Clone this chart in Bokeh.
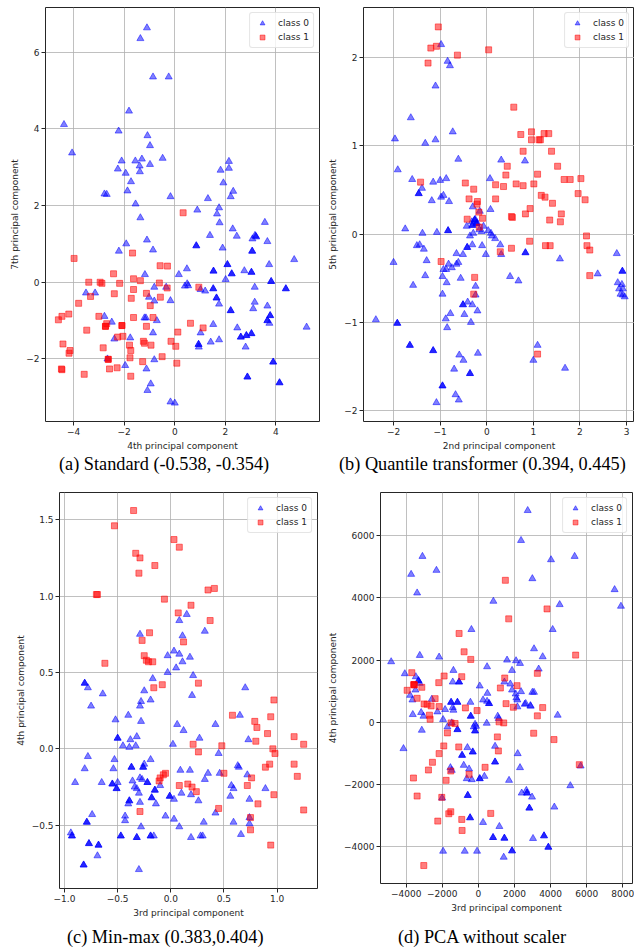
from bokeh.plotting import figure
from bokeh.layouts import column, row
from bokeh.models import FixedTicker, Legend, LegendItem, Range1d, Div
from bokeh.embed import file_html
from bokeh.resources import INLINE

# ---------------- data ----------------
# (a) Standard scaler: 4th vs 7th principal component
a_class0 = [(-4.38,4.11),(-4.06,3.37),(-1.10,6.63),(-1.36,6.35),(-0.86,5.35),(-0.24,5.35),(-1.81,4.46),(-2.22,3.94),
            (-1.08,3.82),(-0.98,3.56),(-0.48,3.23),(-2.10,3.16),(-1.56,3.16),(-1.30,3.21),(-1.39,3.03),(-0.98,3.07),
            (-2.25,2.95),(-1.94,2.84),(-1.38,2.88),(-1.73,2.62),(-1.87,2.38),(-2.78,2.30),(-2.69,2.29),(-1.55,2.04),
            (-0.17,2.23),(-1.36,1.68),(-1.10,1.10),(0.89,1.88),(1.31,2.18),(1.75,1.94),(1.67,1.78),(1.77,1.55),
            (1.81,2.92),(2.14,3.15),(2.14,2.97),(1.92,2.59),(2.31,2.37),(2.21,2.23),(2.29,1.39),(1.39,1.22),
            (2.45,1.20),(3.56,1.56),(3.07,1.13),(3.66,1.06),(3.20,1.20),(3.17,1.22),(3.22,1.18),(-1.92,1.00),
            (-2.21,0.81),(-0.86,0.84),(1.89,0.89),(4.72,0.59),(3.73,0.46),(0.48,0.35),(0.16,0.20),(-1.18,0.20),
            (2.75,0.30),(2.01,0.07),(-0.34,-0.13),(0.40,-0.10),(1.02,-0.19),(1.20,-0.23),(3.16,-0.13),(-0.81,-0.13),
            (0.49,-0.04),(0.53,-0.09),(-1.02,-0.39),(-0.81,-0.49),(-0.17,-0.48),(1.75,-0.57),(3.16,-0.52),(3.10,-0.69),
            (3.66,-0.62),(-3.51,-0.28),(-3.15,-0.28),(-2.78,-0.89),(-2.49,-1.04),(-1.20,-0.93),(-1.14,-0.93),(-0.71,-1.00),
            (3.74,-1.07),(1.52,-1.10),(2.47,-1.19),(5.21,-1.17),(1.02,-1.32),(-0.86,-1.32),(-1.76,-1.45),(-2.39,-1.48),
            (1.75,-1.50),(1.42,-1.56),(0.95,-1.69),(2.80,-1.69),(-2.66,-2.00),(-0.81,-2.02),(-1.96,-2.17),(-1.12,-2.26),
            (-0.95,-2.65),(-1.08,-2.82),(-0.17,-3.12),(0.00,-3.15)]
a_class0_dense = [(0.85,0.95),(3.06,0.81),(2.08,0.46),(1.53,0.29),(2.25,0.22),(3.03,0.26),(3.81,0.02),(1.52,-0.17),
                  (4.39,-0.17),(1.65,-0.41),(2.21,-0.74),(3.77,-0.87),(3.66,-1.00),(2.61,-1.43),(2.83,-1.39),(3.03,-1.34),
                  (0.94,-1.62),(3.89,-2.08),(2.87,-2.47),(4.14,-2.62)]
a_class1 = [(0.33,1.81),(-3.98,0.62),(-1.67,0.76),(-0.58,0.43),(-0.29,0.42),(-2.42,0.22),(-3.40,0.00),(-2.95,0.00),
            (-2.88,-0.03),(-2.18,-0.03),(-1.63,0.09),(-1.36,0.04),(-0.61,-0.02),(-0.30,-0.15),(-1.63,-0.19),(0.95,-0.13),
            (-2.39,-0.30),(-3.33,-0.37),(-1.12,-0.29),(-1.72,-0.42),(-0.57,-0.39),(-3.80,-0.55),(-0.97,-0.61),(-4.60,-0.98),
            (-4.46,-0.89),(-4.19,-0.83),(-3.00,-0.89),(-1.63,-0.92),(-0.86,-0.92),(0.62,-1.07),(-2.69,-1.08),(-1.12,-1.15),
            (1.12,-1.19),(-3.48,-1.25),(0.12,-1.30),(-2.05,-1.41),(-2.26,-1.43),(-1.24,-1.54),(-1.20,-1.59),(-0.15,-1.54),
            (-4.42,-1.61),(-1.79,-1.64),(-0.94,-1.64),(0.04,-1.67),(-2.83,-1.71),(-1.74,-1.78),(-4.14,-1.78),(-4.18,-1.85),
            (-1.77,-1.97),(-0.50,-1.94),(-1.27,-2.07),(0.08,-2.11),(-4.48,-2.26),(-4.46,-2.28),(-2.28,-2.23),(-2.58,-2.26),
            (-3.58,-2.40),(-1.74,-2.45)]
a_class1_dense = [(-2.74,-1.15),(-2.09,-1.13),(-2.63,-2.01)]

# (b) Quantile transformer: 2nd vs 5th principal component
b_class0 = [(-0.98,2.15),(-0.84,1.96),(-0.79,1.91),(-1.10,1.68),(-1.63,1.32),(-1.97,1.08),(-1.32,1.03),(-1.10,1.07),
            (-0.73,1.16),(-0.61,0.85),(-1.91,0.73),(-1.60,0.62),(-1.15,0.59),(-1.00,0.61),(-0.87,0.63),(-1.39,0.52),
            (-1.18,0.38),(-0.98,0.42),(-0.93,0.44),(-0.81,0.37),(-1.75,0.06),(-1.38,0.01),(-1.07,0.02),(-0.30,0.31),
            (-0.15,0.26),(0.08,0.28),(0.07,0.63),(0.31,0.84),(0.82,0.83),(-0.25,0.17),(-0.32,0.14),(-0.43,0.09),
            (-0.21,0.13),(-0.16,0.05),(-0.07,0.09),(-0.11,0.03),(-0.36,-0.02),(-0.29,0.01),(0.03,0.04),(0.09,0.01),
            (0.11,-0.02),(0.18,-0.05),(-1.50,-0.13),(-1.44,-0.12),(-1.35,-0.17),(-1.29,-0.30),(-2.00,-0.32),(-1.32,-0.47),
            (-1.58,-0.58),(-0.95,-0.48),(-0.93,-0.40),(-0.87,-0.40),(-0.82,-0.34),(-0.75,-0.38),(-0.65,-0.34),(-0.61,-0.32),
            (-0.65,-0.22),(-0.51,-0.23),(-0.31,-0.12),(-0.10,-0.13),(-0.02,-0.23),(0.29,-0.12),(0.31,-0.23),(1.57,-0.28),
            (-0.86,-0.55),(-0.95,-0.68),(-0.56,-0.50),(-0.24,-0.59),(-0.24,-0.69),(-0.31,-0.80),(-0.41,-0.77),(-0.20,-0.87),
            (-0.48,-0.91),(-0.78,-0.90),(-0.88,-0.96),(-0.85,-1.06),(-0.34,-1.00),(-2.38,-0.97),(0.50,-0.48),(0.68,-0.53),
            (2.38,-0.45),(2.79,-0.22),(2.81,-0.55),(2.90,-0.57),(2.84,-0.62),(2.92,-0.62),(2.87,-0.68),(2.92,-0.69),
            (2.96,-0.71),(1.09,-1.26),(1.00,-1.43),(1.68,-1.52),(-0.19,-1.35),(-0.59,-1.37),(-0.50,-1.43),(-0.70,-1.53),
            (-1.08,-1.91),(-0.67,-1.82),(-0.60,-1.88)]
b_class0_dense = [(-1.46,0.46),(-0.83,0.04),(-0.42,-0.15),(0.83,-0.21),(-0.51,-0.80),(2.91,-0.42),(-1.92,-1.01),
                  (-1.65,-1.26),(-1.15,-1.32),(-0.36,-1.58),(-0.95,-1.72),(-0.26,0.16),(-0.22,0.12),(-0.31,0.10)]
b_class1 = [(-1.04,2.35),(-1.20,2.11),(-1.08,2.13),(-1.26,1.94),(-0.63,2.03),(0.04,2.09),(0.58,1.44),(0.73,1.13),
            (0.96,1.16),(0.96,1.07),(1.12,1.07),(1.15,1.07),(1.23,1.14),(1.33,1.14),(0.78,0.94),(1.39,0.94),
            (0.44,0.77),(1.52,0.77),(0.41,0.67),(1.09,0.68),(1.66,0.62),(1.79,0.62),(2.02,0.63),(-1.42,0.59),
            (-0.46,0.58),(0.19,0.56),(0.36,0.54),(0.63,0.57),(0.78,0.55),(1.01,0.57),(-0.28,0.51),(1.17,0.44),
            (1.25,0.42),(1.96,0.46),(2.11,0.39),(-0.38,0.40),(0.19,0.40),(-0.20,0.37),(-0.21,0.34),(1.41,0.35),
            (0.93,0.29),(-0.17,0.25),(0.53,0.20),(0.55,0.19),(0.83,0.23),(1.60,0.23),(-0.42,0.17),(-0.09,0.18),
            (1.35,0.16),(1.58,0.14),(-0.16,0.08),(2.14,-0.02),(0.92,-0.08),(0.29,-0.20),(0.53,-0.16),(1.26,-0.13),
            (1.36,-0.13),(2.15,-0.13),(2.21,-0.18),(2.21,-0.47),(-0.98,-0.31),(-0.26,-0.49),(-0.28,-0.68),(1.09,-1.36)]

# (c) Min-max scaler: 3rd vs 4th principal component
c_class0 = [(0.08,0.84),(0.15,0.88),(-0.29,0.75),(0.11,0.74),(0.32,0.77),(-0.03,0.61),(0.03,0.64),(0.08,0.62),
            (0.11,0.57),(0.18,0.60),(0.05,0.53),(-0.03,0.50),(0.21,0.48),(-0.17,0.46),(-0.78,0.40),(-0.64,0.36),
            (-0.25,0.38),(-0.28,0.31),(-0.19,0.32),(0.20,0.35),(0.70,0.40),(-0.75,0.28),(-0.29,0.28),(-0.52,0.19),
            (-0.40,0.22),(-0.28,0.18),(-0.38,0.06),(-0.32,0.08),(-0.45,0.02),(-0.39,0.01),(-0.33,0.02),(0.06,0.16),
            (0.12,0.12),(0.42,0.16),(0.27,0.07),(0.02,0.03),(0.65,0.22),(0.73,0.06),(-0.78,-0.05),(-0.53,-0.07),
            (-0.81,-0.13),(-0.90,-0.22),(-0.65,-0.22),(-0.54,-0.13),(-0.25,-0.10),(-0.19,-0.07),(-0.50,-0.22),(-0.36,-0.21),
            (-0.30,-0.29),(-0.14,-0.36),(-0.40,-0.36),(-0.29,-0.35),(-0.10,-0.24),(0.03,-0.33),(0.09,-0.14),(0.18,-0.14),
            (0.32,-0.20),(0.35,-0.16),(0.46,-0.16),(0.10,-0.29),(0.19,-0.30),(0.26,-0.34),(0.45,-0.03),(0.63,-0.11),
            (0.64,-0.12),(0.72,-0.17),(0.57,-0.24),(0.59,-0.26),(0.56,-0.31),(0.74,-0.33),(0.89,-0.26),(0.74,-0.45),
            (0.59,-0.48),(0.74,-0.49),(0.66,-0.56),(0.42,-0.42),(0.31,-0.48),(-0.05,-0.44),(0.03,-0.46),(0.08,-0.51),
            (0.19,-0.58),(0.28,-0.57),(0.30,-0.57),(-0.74,-0.43),(-0.28,-0.51),(-0.94,-0.55),(-0.69,-0.70),(-0.16,-0.57),
            (-0.30,-0.79),(-0.34,-0.25),(-0.32,-0.26),(-0.29,-0.19),(-0.27,-0.20),(-0.43,-0.44),(-0.43,-0.47)]
c_class0_dense = [(-0.81,0.43),(-0.50,0.07),(-0.37,-0.12),(-0.26,-0.12),(-0.55,-0.23),(-0.51,-0.26),(-0.22,-0.22),
                  (-0.15,-0.27),(-0.18,-0.32),(-0.39,-0.34),(-0.01,-0.31),(-0.79,-0.48),(-0.93,-0.57),(-0.77,-0.62),
                  (-0.68,-0.63),(-0.82,-0.76),(-0.47,-0.57),(-0.32,-0.58),(-0.19,-0.57)]
c_class1 = [(-0.35,1.56),(-0.53,1.46),(0.03,1.37),(0.08,1.32),(-0.33,1.28),(-0.29,1.25),(-0.15,1.20),(-0.30,1.15),
            (-0.69,1.01),(-0.70,1.01),(0.35,1.04),(0.41,1.05),(-0.06,0.98),(0.19,0.94),(0.07,0.89),(0.37,0.84),
            (-0.20,0.76),(-0.27,0.71),(0.12,0.70),(-0.25,0.61),(-0.23,0.58),(-0.21,0.57),(-0.17,0.57),(-0.62,0.56),
            (0.26,0.43),(-0.08,0.42),(-0.16,0.40),(0.97,0.32),(0.58,0.22),(0.79,0.18),(0.81,0.14),(0.94,0.21),
            (0.91,0.10),(1.16,0.08),(0.80,0.05),(0.21,0.03),(0.48,0.02),(1.25,0.03),(0.26,-0.02),(0.96,0.00),
            (0.98,-0.03),(1.16,-0.10),(0.93,-0.10),(0.89,-0.12),(1.19,-0.18),(-0.05,-0.16),(-0.07,-0.17),(-0.10,-0.19),
            (-0.11,-0.21),(0.50,-0.16),(0.76,-0.19),(0.08,-0.24),(0.16,-0.23),(0.20,-0.25),(0.24,-0.28),(0.72,-0.24),
            (0.97,-0.30),(0.82,-0.36),(-0.29,-0.41),(0.45,-0.39),(1.25,-0.40),(0.75,-0.45),(0.75,-0.53),(0.94,-0.63)]

# (d) PCA without scaler: 3rd vs 4th principal component
d_class0 = [(2731,6813),(2362,5850),(-3100,5337),(-3727,4759),(-2325,4888),(-3395,4160),(2989,4620),(4022,5230),
            (5332,5337),(7546,4267),(7897,3733),(830,3893),(4502,3786),(4114,2984),(-387,2984),(3081,2364),
            (3561,2107),(-3247,2150),(-2177,2096),(-4834,1947),(1587,2000),(2085,1979),(2306,1893),(-4077,1561),
            (-3469,1465),(480,1786),(1863,1668),(3339,1711),(-1384,1668),(-3247,1251),(-1421,1294),(1439,1294),
            (1771,1230),(74,1166),(-3487,1037),(498,930),(1863,1037),(2066,909),(2362,984),(3081,963),(2989,963),
            (-3782,866),(258,717),(480,674),(2103,781),(2158,717),(-3653,717),(-2583,738),(-443,642),(2564,578),
            (2878,535),(-3635,247),(-3173,312),(-3044,194),(-2269,333),(-1845,409),(-1421,473),(-1384,387),
            (-1956,86),(-1476,-22),(-1716,-151),(-3136,-258),(-185,-65),(-129,-129),(-258,-151),(461,-32),
            (1070,194),(1125,118),(2159,495),(2620,602),(2897,516),(4391,226),(-4151,-849),(-609,-817),
            (922,-774),(2177,-1011),(2306,-1462),(-1550,-1462),(-1476,-1548),(-812,-1387),(-517,-1505),(-646,-1817),
            (-369,-1849),(332,-1742),(1697,-1871),(-2011,-2441),(2399,-2280),(2657,-2194),(2971,-2409),(4207,-2731),
            (5092,-2043),(5664,-1409),(258,-3226),(1162,-3355),(3026,-3742),(1402,-4344),(-1956,-4151),(-756,-4151),
            (-74,-4151)]
d_class0_dense = [(-3321,1337),(-1070,1294),(-1513,642),(-1162,642),(590,602),(-424,194),(-1162,-237),(-185,-280),
                  (-904,-1065),(-314,-957),(922,-1280),(74,-1817),(-590,-2355),(2694,-2280),(2823,-2763),(-461,-3075),
                  (812,-3710),(1439,-3731),(3635,-3656),(3875,-4022),(1863,-4140)]
d_class1 = [(1494,4567),(1679,3326),(3801,3647),(-1070,2856),(-793,2267),(-424,2021),(5387,2160),(-3690,1594),
            (-1900,1487),(-922,1465),(1458,1422),(3266,1572),(-3542,1198),(-3136,1123),(-2196,1273),
            (-3948,1027),(1218,1102),(2140,1177),(-3395,770),(-2398,759),(-3007,588),(-2841,578),(-2620,524),
            (-2177,502),(-720,460),(-74,374),(1531,598),(1937,481),(3561,470),(-2712,226),(-2675,97),
            (-1513,-22),(-1291,-43),(3266,204),(1144,11),(1402,-22),(3063,-355),(4188,-559),(1051,-473),
            (-1716,-344),(-1919,-763),(-1089,-796),(1107,-925),(-2177,-1011),(-2546,-1290),(-2768,-1538),(-1531,-1570),
            (369,-1452),(-517,-1677),(-3598,-1796),(-1790,-1871),(5590,-1366),(-3395,-2376),(-2029,-2419),(-1531,-2882),
            (-1642,-2946),(683,-2935),(-2251,-3183),(-922,-3129),(-904,-3484),(-3026,-4613)]
d_class1_dense = [(-3580,1210)]

# ticks and labels
a_xticks = [-4, -2, 0, 2, 4]; a_xlabels = ["\u22124", "\u22122", "0", "2", "4"]
a_yticks = [-2, 0, 2, 4, 6]; a_ylabels = ["\u22122", "0", "2", "4", "6"]
b_xticks = [-2, -1, 0, 1, 2, 3]; b_xlabels = ["\u22122", "\u22121", "0", "1", "2", "3"]
b_yticks = [-2, -1, 0, 1, 2]; b_ylabels = ["\u22122", "\u22121", "0", "1", "2"]
c_xticks = [-1.0, -0.5, 0.0, 0.5, 1.0]; c_xlabels = ["\u22121.0", "\u22120.5", "0.0", "0.5", "1.0"]
c_yticks = [-0.5, 0.0, 0.5, 1.0, 1.5]; c_ylabels = ["\u22120.5", "0.0", "0.5", "1.0", "1.5"]
d_xticks = [-4000, -2000, 0, 2000, 4000, 6000, 8000]
d_xlabels = ["\u22124000", "\u22122000", "0", "2000", "4000", "6000", "8000"]
d_yticks = [-4000, -2000, 0, 2000, 4000, 6000]
d_ylabels = ["\u22124000", "\u22122000", "0", "2000", "4000", "6000"]

captions = ["(a) Standard (-0.538, -0.354)", "(b) Quantile transformer (0.394, 0.445)",
            "(c) Min-max (0.383,0.404)", "(d) PCA without scaler"]
class_labels = ["class 0", "class 1"]

# ---------------- drawing ----------------
INK = "#262626"


def xs(pts):
    return [p[0] for p in pts]


def ys(pts):
    return [p[1] for p in pts]


def panel(w, h, bl, br, bt, bb, xr, yr, xt, xtl, yt, ytl, xlab, ylab, c0, c0d, c1, c1d):
    p = figure(width=w, height=h, x_range=Range1d(*xr), y_range=Range1d(*yr),
               output_backend="svg", toolbar_location=None, tools="",
               min_border_left=bl, min_border_right=br, min_border_top=bt, min_border_bottom=bb)
    p.outline_line_color = INK
    p.outline_line_width = 1
    p.background_fill_color = "white"
    p.border_fill_color = "white"
    p.xaxis.ticker = FixedTicker(ticks=xt)
    p.xaxis.major_label_overrides = {t: l for t, l in zip(xt, xtl)}
    p.yaxis.ticker = FixedTicker(ticks=yt)
    p.yaxis.major_label_overrides = {t: l for t, l in zip(yt, ytl)}
    p.xaxis.axis_label = xlab
    p.yaxis.axis_label = ylab
    for ax in (p.xaxis[0], p.yaxis[0]):
        ax.axis_line_color = None
        ax.major_tick_in = 0
        ax.major_tick_out = 4
        ax.major_tick_line_color = INK
        ax.minor_tick_line_color = None
        ax.major_label_text_font = "DejaVu Sans"
        ax.major_label_text_font_size = "9px"
        ax.major_label_text_color = INK
        ax.major_label_standoff = 2
        ax.axis_label_text_font = "DejaVu Sans"
        ax.axis_label_text_font_size = "9px"
        ax.axis_label_text_font_style = "normal"
        ax.axis_label_text_color = INK
        ax.axis_label_standoff = 3
    p.grid.grid_line_color = "#b0b0b0"
    p.grid.grid_line_width = 0.8

    r0 = p.scatter(xs(c0), ys(c0), marker="triangle", size=7, fill_color="blue", fill_alpha=0.5,
                   line_color="blue", line_alpha=0.5)
    if c0d:
        p.scatter(xs(c0d), ys(c0d), marker="triangle", size=7, fill_color="blue", fill_alpha=0.85,
                  line_color="blue", line_alpha=0.85)
    r1 = p.scatter(xs(c1), ys(c1), marker="square", size=6, fill_color="red", fill_alpha=0.5,
                   line_color="red", line_alpha=0.5)
    if c1d:
        p.scatter(xs(c1d), ys(c1d), marker="square", size=6, fill_color="red", fill_alpha=0.85,
                  line_color="red", line_alpha=0.85)

    legend = Legend(items=[LegendItem(label=class_labels[0], renderers=[r0]),
                           LegendItem(label=class_labels[1], renderers=[r1])],
                    location="top_right", margin=5, padding=4, spacing=2,
                    glyph_width=16, glyph_height=12, label_height=12, label_standoff=8,
                    label_text_font="DejaVu Sans", label_text_font_size="9px", label_text_color=INK,
                    border_line_color="#cccccc", border_line_width=1, background_fill_alpha=0.8)
    if "border_radius" in Legend.properties():
        legend.border_radius = 3
    p.add_layout(legend)
    return p


def caption(text, w, left):
    return Div(text=text, width=w, height=22, margin=(0, 0, 0, 0),
               styles={"font-family": "'Liberation Serif', serif", "font-size": "18.3px",
                       "line-height": "22px", "padding-left": f"{left}px", "white-space": "nowrap",
                       "color": "black", "box-sizing": "border-box"})


pa = panel(320, 453, 45, 1, 7, 32, (-5.11, 5.72), (-3.63, 7.16), a_xticks, a_xlabels, a_yticks, a_ylabels,
           "4th principal component", "7th principal component",
           a_class0, a_class0_dense, a_class1, a_class1_dense)
pb = panel(314, 453, 43, 0, 7, 32, (-2.645, 3.17), (-2.124, 2.57), b_xticks, b_xlabels, b_yticks, b_ylabels,
           "2nd principal component", "5th principal component",
           b_class0, b_class0_dense, b_class1, [])
pc = panel(320, 451, 59, 3, 17, 38, (-1.047, 1.38), (-0.914, 1.678), c_xticks, c_xlabels, c_yticks, c_ylabels,
           "3rd principal component", "4th principal component",
           c_class0, c_class0_dense, c_class1, [])
pd_ = panel(314, 451, 60, 2, 17, 43, (-5424, 8537), (-5191, 7393), d_xticks, d_xlabels, d_yticks, d_ylabels,
            "3rd principal component", "4th principal component",
            d_class0, d_class0_dense, d_class1, d_class1_dense)

layout = column(
    row(column(pa, caption(captions[0], 320, 59)), column(pb, caption(captions[1], 314, 19))),
    row(column(pc, caption(captions[2], 320, 67)), column(pd_, caption(captions[3], 314, 78))),
)
open("out.html", "w").write(file_html(layout, INLINE))
